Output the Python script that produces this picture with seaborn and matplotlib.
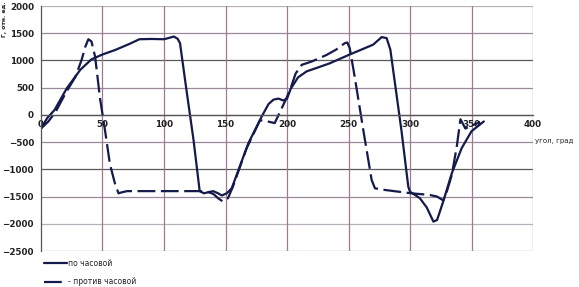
import numpy as np
import pandas as pd
import matplotlib
matplotlib.use("Agg")
import matplotlib.pyplot as plt
import seaborn as sns

# --- data ---
cw_x = [0, 5, 11, 21, 32, 41, 50, 60, 72, 80, 90, 100, 105, 108, 111, 113, 118, 124, 129,
        132.5, 136, 140, 144, 147, 151, 155, 168.6, 179.4, 185, 189, 193, 197, 200, 203,
        209, 216, 225, 235, 250, 270, 277, 281, 284, 293, 298.6, 300, 308, 313.6, 319, 322,
        327, 334, 342, 350, 360]
cw_y = [-250, -60, 90, 490, 830, 1020, 1110, 1190, 1305, 1390, 1395, 1390, 1420, 1440, 1400,
        1320, 500, -460, -1400, -1440, -1420, -1400, -1440, -1480, -1440, -1350, -520, -30,
        200, 280, 300, 265, 300, 480, 690, 800, 870, 950, 1100, 1290, 1430, 1410, 1200, -280,
        -1320, -1410, -1530, -1700, -1960, -1930, -1590, -1070, -610, -300, -120]

ccw_x = [0, 6, 12, 20, 28, 33, 36, 38.5, 41, 44, 48, 52, 56, 60, 63, 66, 70, 129, 135, 140,
         144, 147.7, 150, 152, 156, 167, 178, 183, 186, 190, 194, 200, 204, 207, 212, 220,
         232, 240, 247, 249, 251, 255, 262, 268.8, 271.5, 279.7, 301, 316, 322, 327, 330,
         334, 338, 341, 345, 350, 357]
ccw_y = [-250, -120, 60, 400, 700, 1010, 1250, 1390, 1350, 1070, 300, -275, -900, -1250,
         -1440, -1420, -1400, -1400, -1410, -1450, -1530, -1590, -1560, -1530, -1320, -620,
         -100, -110, -130, -150, 40, 330, 560, 760, 920, 980, 1100, 1200, 1318, 1330, 1226,
         704, -276, -1195, -1348, -1379, -1440, -1470, -1500, -1570, -1400, -1100, -580, -80,
         -250, -200, -130]

label_cw = "по часовой"
label_ccw = "против часовой"
xticks = [0, 50, 100, 150, 200, 250, 300, 350, 400]
yticks = [-2500, -2000, -1500, -1000, -500, 0, 500, 1000, 1500, 2000]

df_cw = pd.DataFrame({"x": cw_x, "y": cw_y})
df_ccw = pd.DataFrame({"x": ccw_x, "y": ccw_y})

sns.set_style("white")
plt.rcParams["font.family"] = ["DejaVu Sans"]

fig = plt.figure(figsize=(5.79, 2.87), dpi=100)
ax = fig.add_axes([0.0708, 0.1254, 0.8498, 0.8536])

line_color = "#141a4a"
sns.lineplot(data=df_cw, x="x", y="y", ax=ax, color=line_color, linewidth=1.6,
             estimator=None, sort=False, label=label_cw, legend=False)
sns.lineplot(data=df_ccw, x="x", y="y", ax=ax, color=line_color, linewidth=1.6,
             estimator=None, sort=False, label=label_ccw, legend=False,
             dashes=False)
ax.lines[1].set_dashes([8, 2.5])

ax.set_xlim(0, 400)
ax.set_ylim(-2500, 2000)
ax.set_xticks(xticks)
ax.set_yticks(yticks)
ax.set_xlabel("")
ax.set_ylabel("")

# grid
for yv in yticks:
    c = "#5a5a5a" if yv % 1000 == 0 else "#9a8a98"
    if yv in (2000, -2000):
        c = "#b8b0b8"
    ax.axhline(yv, color=c, linewidth=0.9, zorder=0)
for xv in xticks[1:]:
    ax.axvline(xv, color="#a07890", linewidth=0.9, zorder=0)

for s in ["top", "right"]:
    ax.spines[s].set_visible(False)
ax.spines["bottom"].set_position(("data", 0))
ax.spines["bottom"].set_color("#555555")
ax.spines["left"].set_color("#555555")
ax.spines["bottom"].set_linewidth(0.9)
ax.spines["left"].set_linewidth(0.9)

ax.tick_params(axis="both", labelsize=6.3, length=3, width=0.8, color="#555555", pad=2)
ax.tick_params(axis="x", direction="inout", length=4)
for lab in ax.get_xticklabels() + ax.get_yticklabels():
    lab.set_fontweight("bold")
    lab.set_color("#222222")

fig.text(0.924, 0.508, "угол, град", fontsize=5, color="#222222", va="center", ha="left")
fig.text(0.003, 0.995, "Г, отн. ед.", fontsize=4.3, color="#222222", rotation=90,
         va="top", ha="left", fontweight="bold")

handles = ax.lines[:2]
fig.legend(handles, [label_cw, "- " + label_ccw], loc="lower left",
           bbox_to_anchor=(0.075, 0.0), frameon=False, fontsize=5.5,
           handlelength=3.0, handletextpad=0.1, labelspacing=1.2, borderaxespad=0,
           borderpad=0.1)

fig.savefig("out.png", dpi=100)
